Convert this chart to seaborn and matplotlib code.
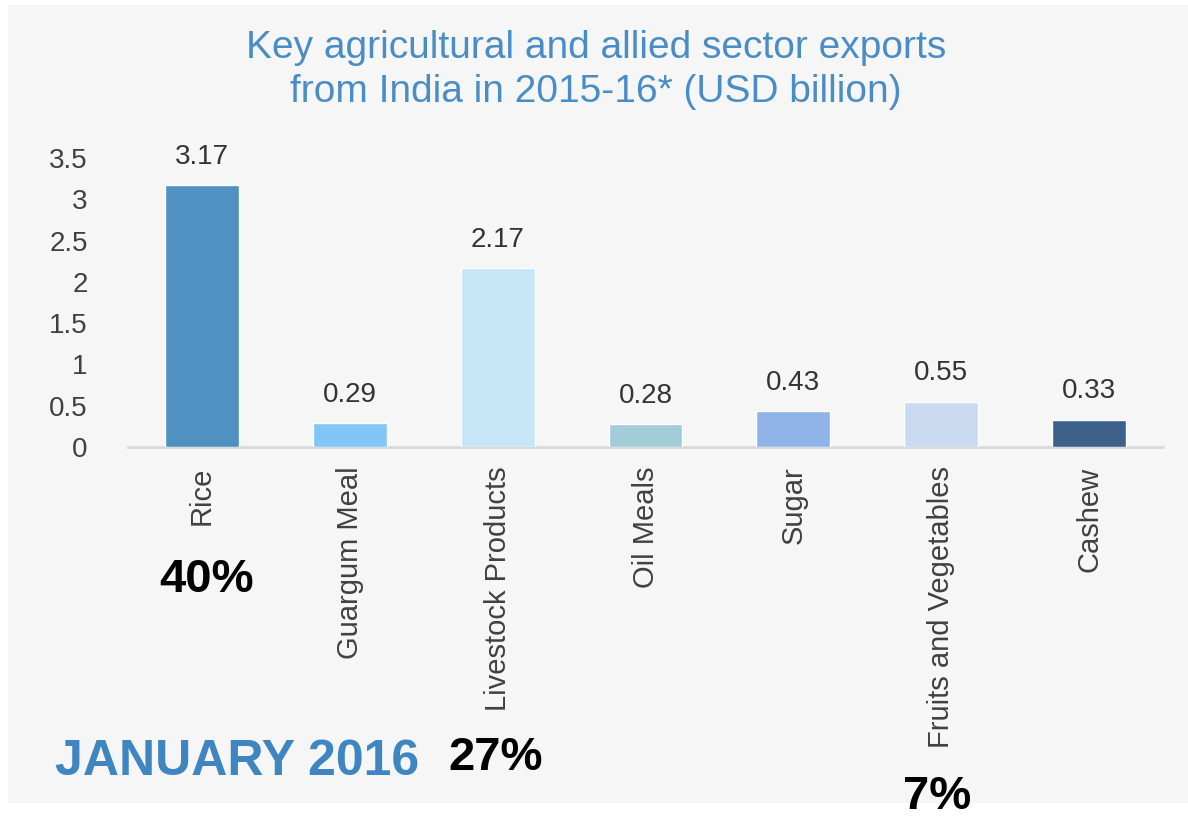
import matplotlib.pyplot as plt
import matplotlib.patches as mpatches
import numpy as np
import pandas as pd
import seaborn as sns

categories = ["Rice", "Guargum Meal", "Livestock Products", "Oil Meals",
              "Sugar", "Fruits and Vegetables", "Cashew"]
exports_usd_bn = [3.17, 0.29, 2.17, 0.28, 0.43, 0.55, 0.33]
bar_colors = ["#4f91c0", "#80c6f7", "#c6e6f8", "#a2ccd8",
              "#90b4e8", "#c9daf0", "#3e618c"]
y_ticks = [0, 0.5, 1, 1.5, 2, 2.5, 3, 3.5]
share_labels = ["40%", "27%", "7%"]

sns.set_theme(style="white")
plt.rcParams['font.family'] = ['Liberation Sans', 'DejaVu Sans']

df = pd.DataFrame({"item": categories, "value": exports_usd_bn})

fig = plt.figure(figsize=(11.88, 8.18), dpi=100, facecolor="white")
# light grey panel behind everything
fig.patches.append(mpatches.Rectangle((8/1188, 1-803/818), 1.0, 798/818,
                                      transform=fig.transFigure,
                                      facecolor="#f6f6f6", edgecolor="none",
                                      zorder=-10))

ax = fig.add_axes([128/1188, 1-447/818, 1035/1188, 289/818])
ax.set_facecolor("none")
sns.barplot(df, x="item", y="value", hue="item", palette=bar_colors,
            saturation=1, width=0.5, legend=False, ax=ax, zorder=3)

ax.set_ylim(0, 3.5)
ax.set_yticks(y_ticks)
ax.set_yticklabels(["%g" % t for t in y_ticks])
ax.set_xlabel("")
ax.set_ylabel("")
for s in ["top", "right", "left"]:
    ax.spines[s].set_visible(False)
ax.spines["bottom"].set_color("#d9d9d9")
ax.spines["bottom"].set_linewidth(2)
ax.spines["bottom"].set_zorder(1)
ax.tick_params(axis="y", length=0, pad=29, labelsize=20, labelcolor="#404040")
ax.tick_params(axis="x", length=0, pad=14, labelsize=21, labelcolor="#404040",
               labelrotation=90)

for i, v in enumerate(exports_usd_bn):
    ax.annotate("%.2f" % v, (i, v), xytext=(0, 11), textcoords="offset points",
                ha="center", va="bottom", fontsize=20, color="#333333")

fig.text(596/1188, 1-70/818,
         "Key agricultural and allied sector exports\nfrom India in 2015-16* (USD billion)",
         ha="center", va="center", fontsize=28, color="#4a8dc6", linespacing=1.25)

fig.text(55/1188, 1-762/818, "JANUARY 2016", ha="left", va="center",
         fontsize=36, fontweight="bold", color="#3f86c0")

share_pos = [(207, 580), (496, 758), (937, 797)]
for lab, (px, py) in zip(share_labels, share_pos):
    fig.text(px/1188, 1-py/818, lab, ha="center", va="center",
             fontsize=34, fontweight="bold", color="black")

fig.savefig("out.png", dpi=100, facecolor="white")
